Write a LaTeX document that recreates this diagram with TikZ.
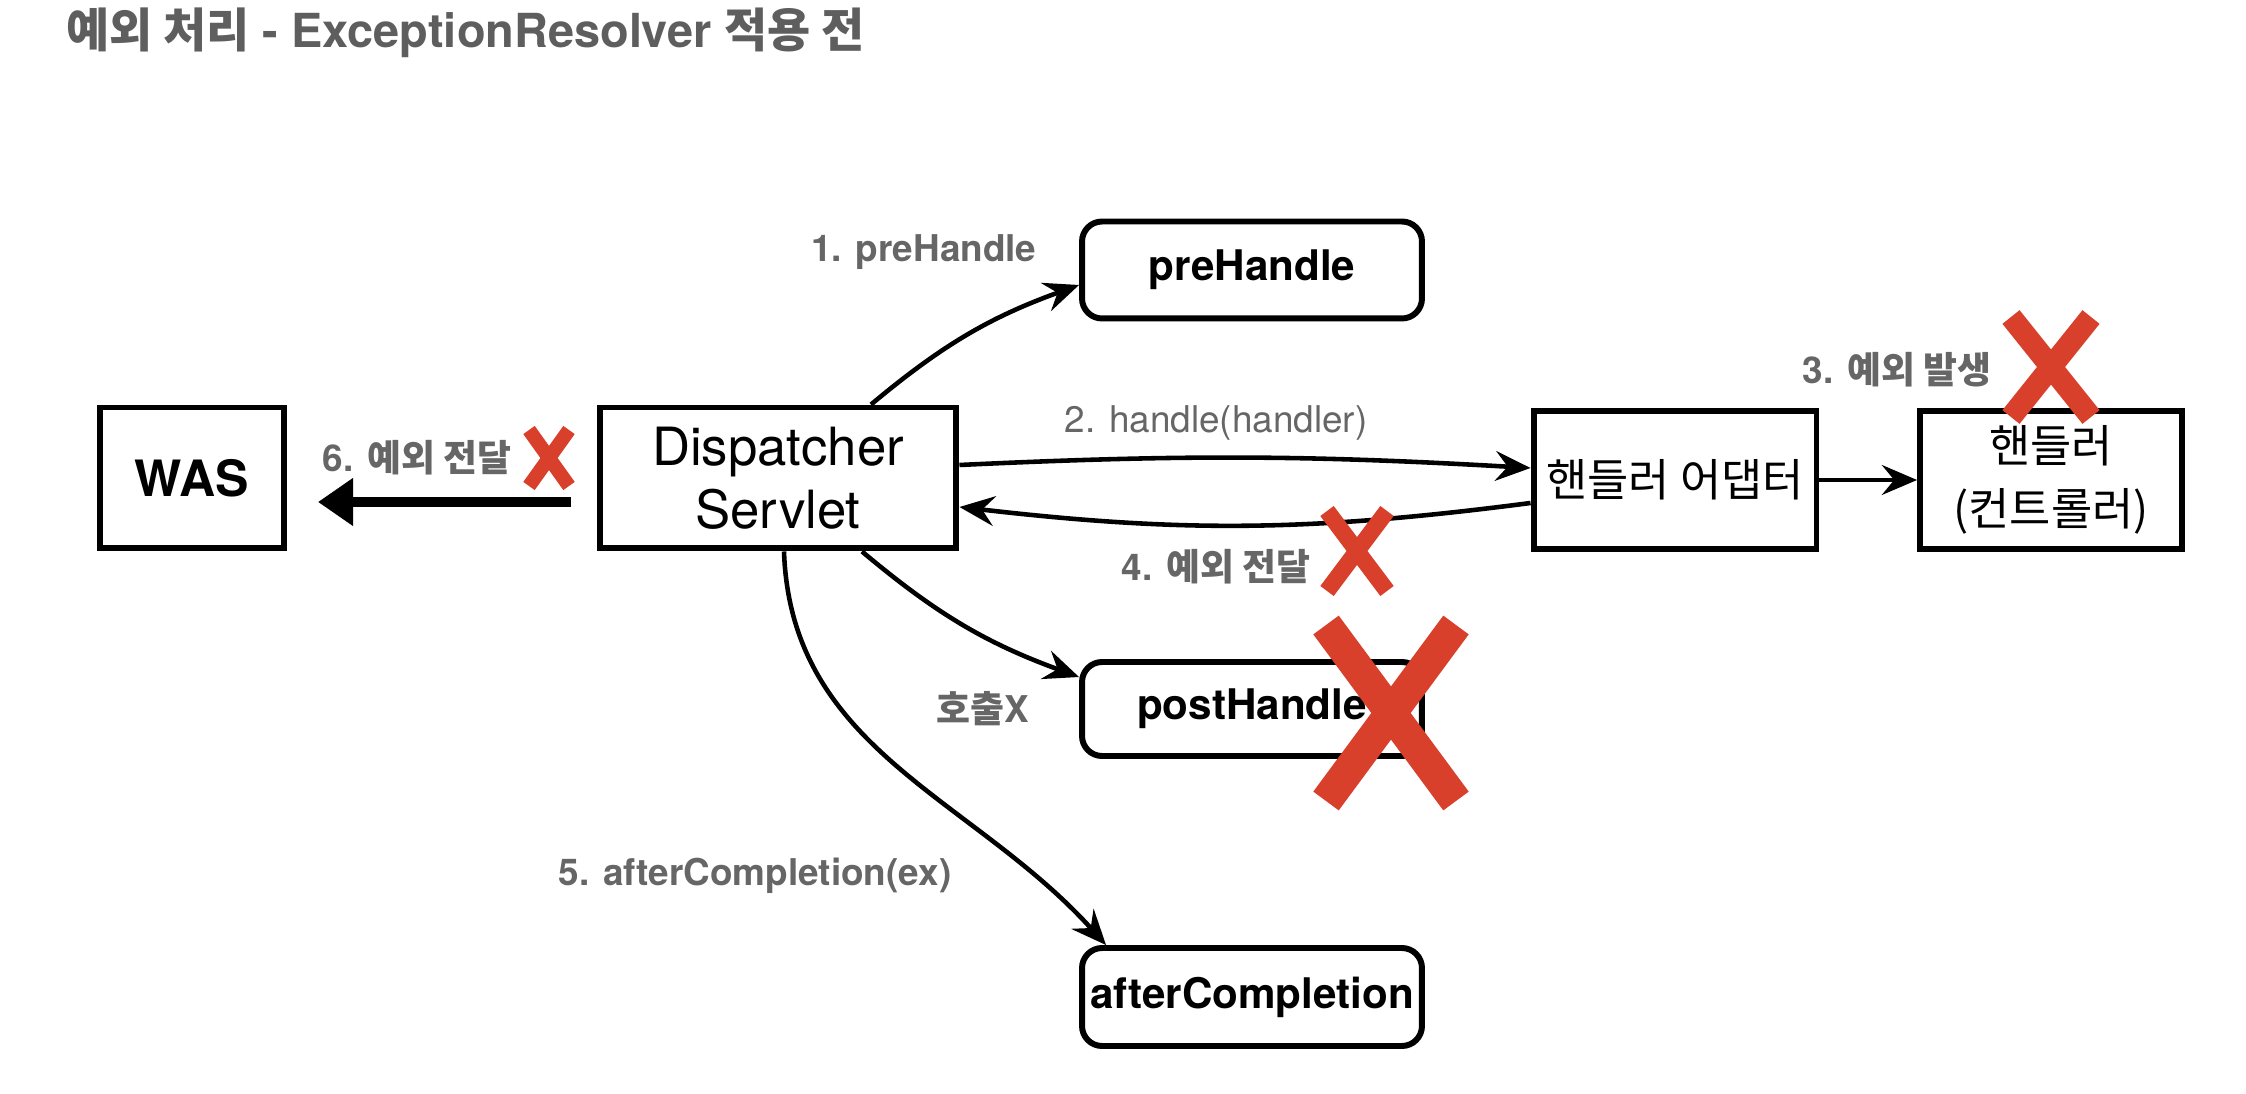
\documentclass[tikz,border=0pt]{standalone}
\usepackage{fontspec}
\setmainfont{TeX Gyre Heros}
\newfontfamily\krfont{Noto Sans CJK KR}
\usetikzlibrary{arrows.meta}
\definecolor{titlegray}{HTML}{5E5E5E}
\definecolor{labelgray}{HTML}{666666}
\definecolor{crossred}{HTML}{D9402B}
\newcommand{\kr}[1]{{\krfont #1}}

\begin{document}
\begin{tikzpicture}[x=0.02cm, y=0.02cm,
    box/.style={draw, line width=3.4pt, minimum height=2.82cm, align=center,
        font=\fontsize{30}{36}\selectfont},
    roundbox/.style={box, rounded corners=0.4cm, minimum width=6.8cm,
        minimum height=1.94cm, font=\fontsize{24}{28}\selectfont\bfseries},
    lbl/.style={text=labelgray, font=\fontsize{21}{25}\selectfont\bfseries},
    sketch/.style={line width=2.6pt, -{Stealth[length=20pt, width=17pt, inset=7pt]}},
    fat/.style={line width=5.5pt, -{Triangle[length=20pt, width=26pt]}},
    cross/.style={crossred, line cap=butt}]
            \useasboundingbox (0,0) rectangle (2246,-1094);
            % title
            \node[anchor=west, text=titlegray, font=\fontsize{26.7}{30}\selectfont\bfseries]
                (title) at (60,-33) {\kr{예외 처리} - ExceptionResolver \kr{적용 전}};
            % boxes
            \node[box, minimum width=3.68cm, font=\fontsize{28.5}{35}\selectfont\bfseries]
                (was) at (192,-478) {WAS};
            \node[box, minimum width=7.14cm] (disp) at (778,-478) {Dispatcher\\Servlet};
            \node[roundbox] (preh) at (1252,-270) {preHandle};
            \node[roundbox, minimum height=1.88cm] (posth) at (1252,-709) {postHandle};
            \node[roundbox, minimum height=1.96cm] (afterc) at (1252,-997) {afterCompletion};
            \node[box, minimum width=5.66cm, minimum height=2.76cm,
                font=\fontsize{25.5}{36}\selectfont\krfont] (adapt) at (1675,-480) {핸들러 어댑터};
            \node[box, minimum width=5.24cm, minimum height=2.76cm,
                font=\fontsize{25.5}{36}\selectfont\krfont] (ctrl) at (2051,-480) {핸들러\\(컨트롤러)};
            % labels
            \node[lbl] (lpre) at (924,-252) {1. preHandle};
            \node[lbl, font=\fontsize{21}{24}\selectfont] (lhandle) at (1216,-423) {2. handle(handler)};
            \node[lbl] (lraise) at (1897,-370) {3. \kr{예외 발생}};
            \node[lbl] (lback) at (1216,-567) {4. \kr{예외 전달}};
            \node[lbl] (lafter) at (755,-876) {5. afterCompletion(ex)};
            \node[lbl] (lwas) at (417,-458) {6. \kr{예외 전달}};
            \node[lbl] (lnocall) at (983,-709) {\kr{호출}X};
            % connectors
            \draw[sketch] ([xshift=1.86cm]disp.north) to[bend left=10] ([yshift=-0.3cm]preh.west);
            \draw[sketch] ([yshift=0.26cm]disp.east) to[bend left=3] ([yshift=0.24cm]adapt.west);
            \draw[sketch] ([yshift=-0.46cm]adapt.west) to[bend left=7] ([yshift=-0.58cm]disp.east);
            \draw[sketch] (adapt.east) -- (ctrl.west);
            \draw[sketch] ([xshift=1.68cm]disp.south) to[bend right=10] ([yshift=-0.36cm]posth.north west);
            \draw[sketch] ([xshift=0.12cm]disp.south) to[out=-88, in=132] ([xshift=0.54cm]afterc.north west);
            \draw[fat, shorten <=0.51cm, shorten >=0.62cm]
                ([yshift=-0.48cm]disp.west) -- ([yshift=-0.48cm]was.east);
            % red crosses
            \foreach \cx/\cy/\hw/\hh/\lw in {549/-458/20/28/8pt, 1357/-551/30/40/9.5pt,
                    2051/-367/40/50/12.5pt, 1391/-713/65/88/18pt} {
                \draw[cross, line width=\lw] (\cx-\hw,\cy+\hh) -- (\cx+\hw,\cy-\hh)
                    (\cx+\hw,\cy+\hh) -- (\cx-\hw,\cy-\hh);
            }
\end{tikzpicture}
\end{document}
